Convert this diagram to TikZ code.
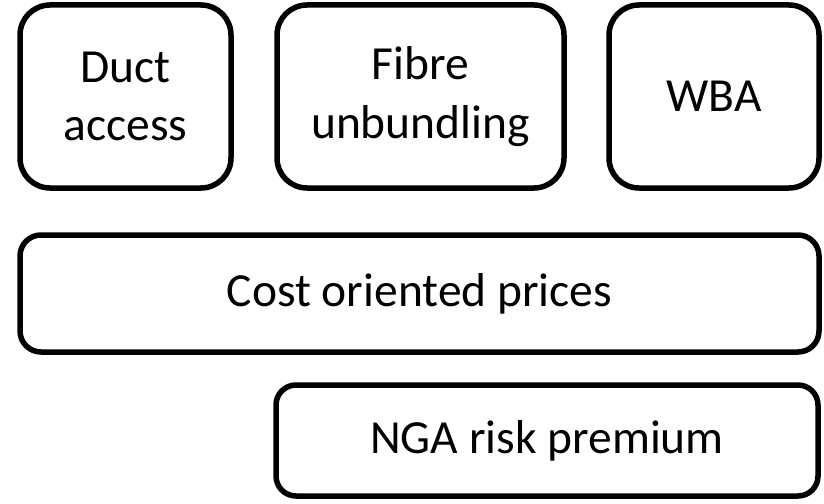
\documentclass[tikz,border=0pt]{standalone}
\usepackage{fontspec}
\setmainfont{Carlito}

\begin{document}
\begin{tikzpicture}[x=1pt, y=-1pt,
    blk/.style={draw, line width=5.5pt, rounded corners=#1, align=center,
      inner sep=0pt, font=\fontsize{47.5}{58.5}\selectfont},
    blk/.default=30pt]
    \useasboundingbox (0,0) rectangle (824,503);

    % access products
    \node[blk, minimum width=211pt, minimum height=183pt] (duct) at (125.5,96.5) {Duct\\access};
    \node[blk, minimum width=287pt, minimum height=183pt] (fibre) at (420.5,96.5) {Fibre\\unbundling};
    \node[blk, minimum width=210pt, minimum height=183pt] (wba) at (714,96.5) {WBA};

    % pricing
    \node[blk=21pt, minimum width=799pt, minimum height=117pt] (cost) at (419.5,293.5) {Cost oriented prices};
    \node[blk=20pt, minimum width=542pt, minimum height=111pt] (nga) at (547,440.5) {NGA risk premium};
  \end{tikzpicture}
\end{document}
